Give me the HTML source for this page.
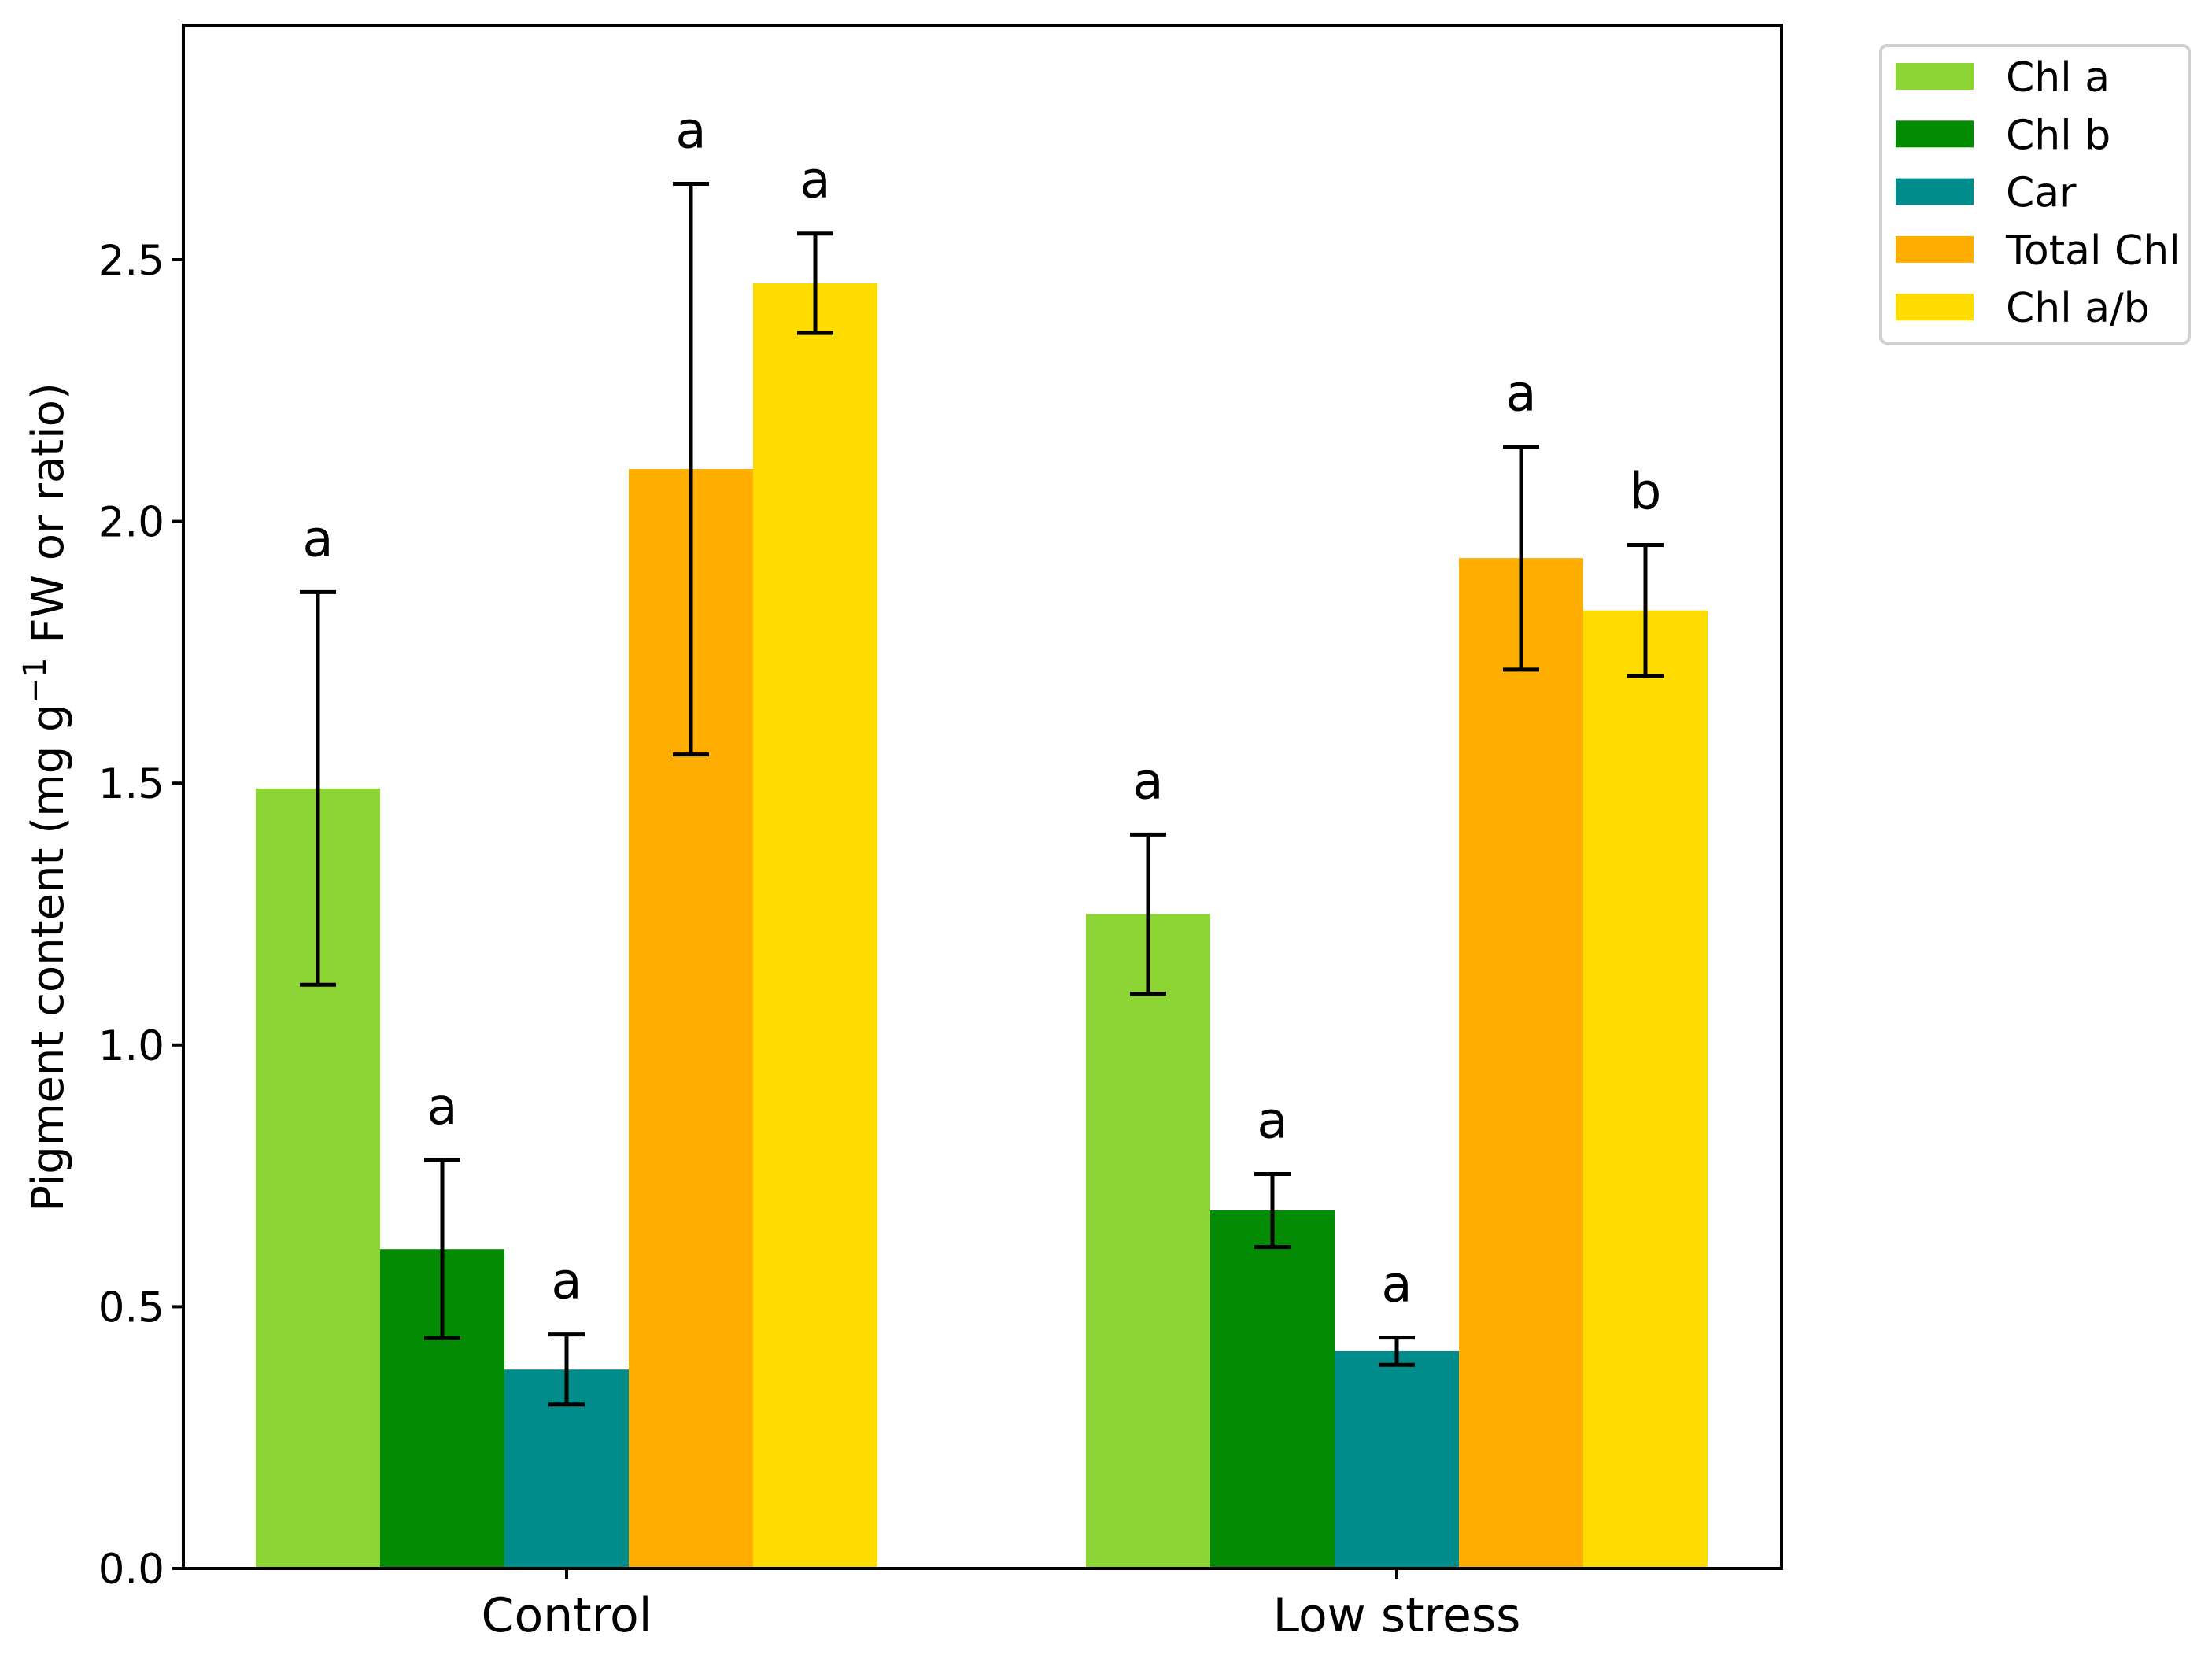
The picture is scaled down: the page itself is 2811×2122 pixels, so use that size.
<!DOCTYPE html>
<html><head><meta charset="utf-8"><style>
body{margin:0;background:#fff}
svg text{font-family:"DejaVu Sans","Liberation Sans",sans-serif;fill:#000}
</style></head><body>
<svg id="chart" width="2811" height="2117" viewBox="0 0 2811 2117" xmlns="http://www.w3.org/2000/svg">
<g id="plot"></g>
</svg>
<script>
const groups=["Control","Low stress"];
const series=["Chl a","Chl b","Car","Total Chl","Chl a/b"];
const colors=["#8dd435","#038c03","#008c8a","#ffad00","#ffdc00"];
const valControl=[1.49,0.61,0.38,2.10,2.455];
const valLow=[1.25,0.684,0.415,1.93,1.83];
const errControl=[0.375,0.17,0.067,0.545,0.095];
const errLow=[0.152,0.07,0.026,0.213,0.125];
const letControl=["a","a","a","a","a"];
const letLow=["a","a","a","a","b"];
const yTicks=[0,0.5,1.0,1.5,2.0,2.5];
const yTickLabels=["0.0","0.5","1.0","1.5","2.0","2.5"];

const NS="http://www.w3.org/2000/svg";
const svg=document.getElementById('chart');
const L=233,R=2264,T=32,B=1993;
const yMax=(B-T)/((1993-330)/2.5);
function y(v){return B-(v/yMax)*(B-T);}
const groupCenters=[720,1775];
const bw=158;
function xc(g,s){return groupCenters[g]+(s-2)*bw;}
function mk(tag,attrs,parent){const e=document.createElementNS(NS,tag);for(const k in attrs)e.setAttribute(k,attrs[k]);(parent||svg).appendChild(e);return e;}

const vals=[valControl,valLow],errs=[errControl,errLow],lets=[letControl,letLow];
for(let g=0;g<2;g++){
  for(let s=0;s<5;s++){
    const v=vals[g][s],e=errs[g][s],cx=xc(g,s);
    const r=mk('rect',{x:cx-bw/2,y:y(v),width:bw,height:B-y(v),fill:colors[s]});
    
    
    const eb=mk('path',{d:`M${cx},${y(v+e)}V${y(v-e)}M${cx-23},${y(v+e)}H${cx+23}M${cx-23},${y(v-e)}H${cx+23}`,stroke:'#000','stroke-width':5,fill:'none'});
    
    
    const t=mk('text',{x:cx,y:y(v+e)-46,'font-size':64,'text-anchor':'middle'});
    t.textContent=lets[g][s];
    
    
  }
}
const fr=mk('rect',{x:L,y:T,width:R-L,height:B-T,fill:'none',stroke:'#000','stroke-width':4});


for(let i=0;i<yTicks.length;i++){
  const yy=y(yTicks[i]);
  mk('line',{x1:L-14,x2:L,y1:yy,y2:yy,stroke:'#000','stroke-width':4});
  const t=mk('text',{x:L-24,y:yy+19,'font-size':53,'text-anchor':'end'});
  t.textContent=yTickLabels[i];
  
  
}
for(let g=0;g<2;g++){
  mk('line',{x1:groupCenters[g],x2:groupCenters[g],y1:B,y2:B+14,stroke:'#000','stroke-width':4});
  const t=mk('text',{x:groupCenters[g],y:B+80,'font-size':60,'text-anchor':'middle'});
  t.textContent=groups[g];
  
  
}
const yl=mk('text',{x:0,y:0,'font-size':56,'text-anchor':'middle',transform:'translate(80,1013) rotate(-90)'});
yl.innerHTML='Pigment content (mg g<tspan dy="-22" font-size="40">−1</tspan><tspan dy="22"> FW or ratio)</tspan>';


const lg=mk('g',{});


mk('rect',{x:2390,y:58,width:392,height:378,rx:8,fill:'#fff',stroke:'#d0d0d0','stroke-width':4},lg);
for(let s=0;s<5;s++){
  const cy=97+s*73.3;
  const e=mk('g',{},lg);
  
  
  mk('rect',{x:2409,y:cy-17,width:99,height:34,fill:colors[s]},e);
  const t=mk('text',{x:2549,y:cy+19,'font-size':52},e);
  t.textContent=series[s];
}
</script>
</body></html>
